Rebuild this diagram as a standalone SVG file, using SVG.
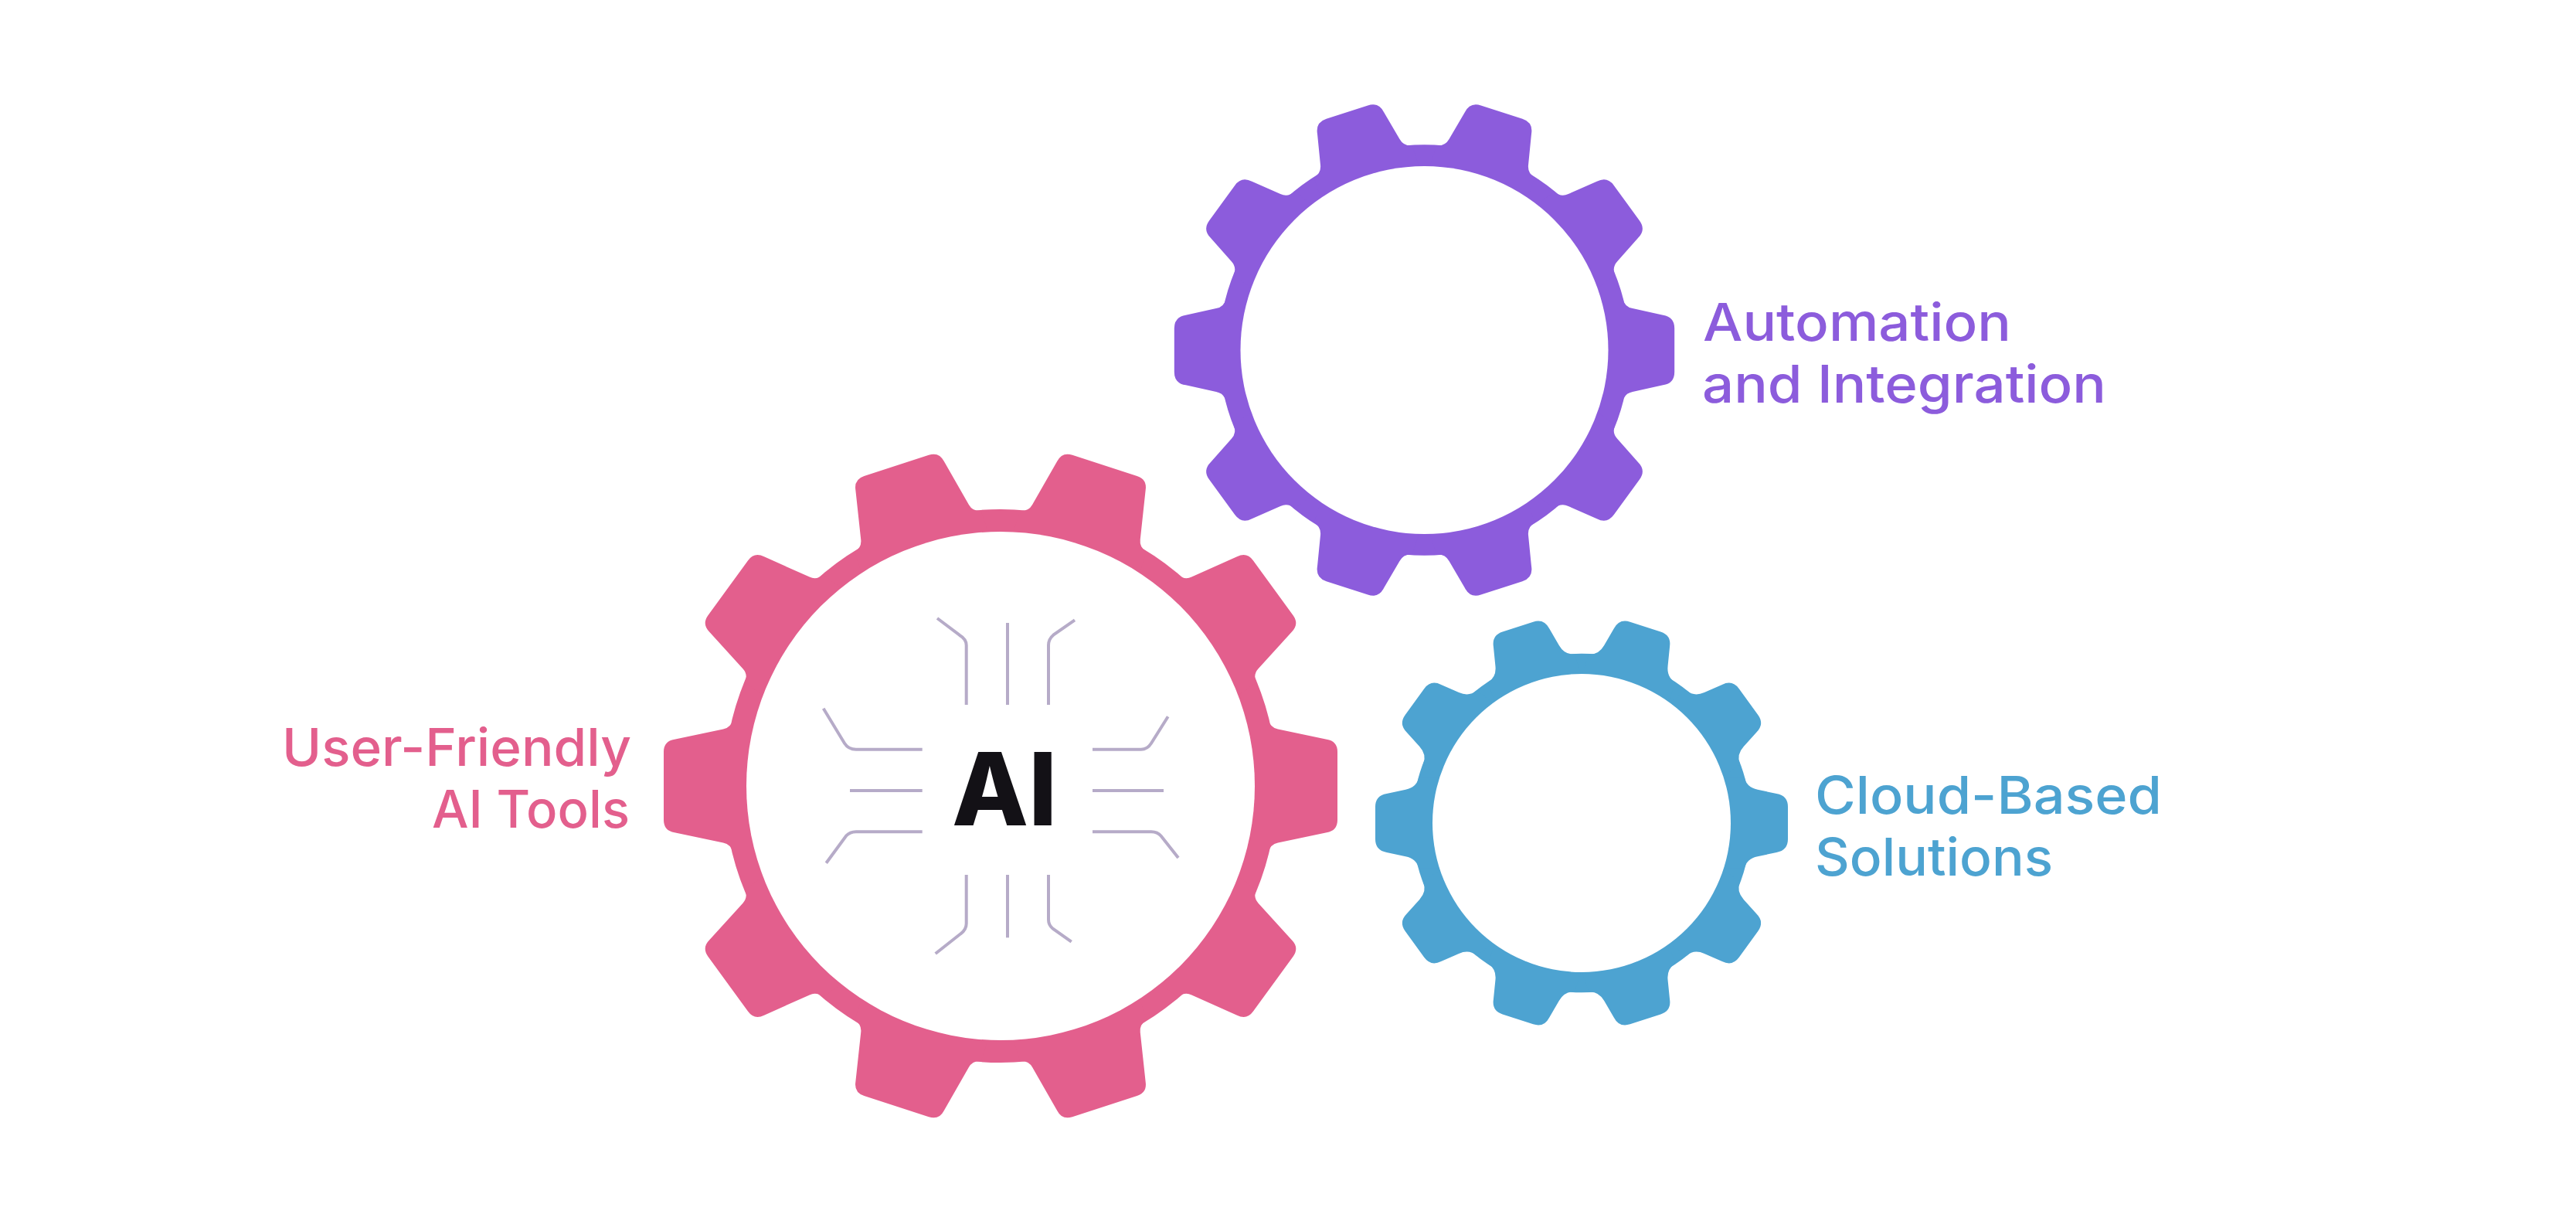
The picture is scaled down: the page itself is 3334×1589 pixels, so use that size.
<svg xmlns="http://www.w3.org/2000/svg" width="3334" height="1589" viewBox="0 0 3334 1589">
<style>
.bg{fill:#fff}
.hole{fill:#fff}
.pink{fill:#E35F8D}
.purple{fill:#8C5CDC}
.blue{fill:#4DA3D1}
.trace{fill:none;stroke:#B6ABC8;stroke-width:4}
.label{font-family:"Inter","Noto Sans",sans-serif;font-size:67px;font-weight:500}
.ai{font-family:"Inter","Liberation Sans",sans-serif;font-size:130px;font-weight:800;fill:#131116}
</style>
<defs>
<path id="toothP" d="M300,-86L346.5,-86Q349,-75.4 359,-73.4L422,-60.2Q436,-58 436,-44L436,44Q436,58 422,60.2L359,73.4Q349,75.4 346.5,86L300,86Z"/>
<path id="toothV" d="M300,-90L345.5,-90Q349,-75.4 363,-72.6L416,-61Q436,-58 436,-38L436,38Q436,58 416,61L363,72.6Q349,75.4 345.5,90L300,90Z"/>
<path id="toothB" d="M300,-96L344,-96Q349,-75.4 372,-70.7L412,-62Q436,-58 436,-34L436,34Q436,58 412,62L372,70.7Q349,75.4 344,96L300,96Z"/>
<g id="bodyP"><circle r="358"/><use href="#toothP"/><use href="#toothP" transform="rotate(36)"/><use href="#toothP" transform="rotate(72)"/><use href="#toothP" transform="rotate(108)"/><use href="#toothP" transform="rotate(144)"/><use href="#toothP" transform="rotate(180)"/><use href="#toothP" transform="rotate(216)"/><use href="#toothP" transform="rotate(252)"/><use href="#toothP" transform="rotate(288)"/><use href="#toothP" transform="rotate(324)"/></g>
<g id="bodyV"><circle r="358"/><use href="#toothV"/><use href="#toothV" transform="rotate(36)"/><use href="#toothV" transform="rotate(72)"/><use href="#toothV" transform="rotate(108)"/><use href="#toothV" transform="rotate(144)"/><use href="#toothV" transform="rotate(180)"/><use href="#toothV" transform="rotate(216)"/><use href="#toothV" transform="rotate(252)"/><use href="#toothV" transform="rotate(288)"/><use href="#toothV" transform="rotate(324)"/></g>
<g id="bodyB"><circle r="358"/><use href="#toothB"/><use href="#toothB" transform="rotate(36)"/><use href="#toothB" transform="rotate(72)"/><use href="#toothB" transform="rotate(108)"/><use href="#toothB" transform="rotate(144)"/><use href="#toothB" transform="rotate(180)"/><use href="#toothB" transform="rotate(216)"/><use href="#toothB" transform="rotate(252)"/><use href="#toothB" transform="rotate(288)"/><use href="#toothB" transform="rotate(324)"/></g>
</defs>
<rect class="bg" width="3334" height="1589"/>
<g id="gear-automation">
<use class="purple" href="#bodyV" transform="translate(1843.5 453) scale(0.7424)"/>
<circle class="hole" cx="1843.5" cy="453" r="238"/>
<text class="label" fill="#8C5CDC" x="2204" y="441" textLength="399" lengthAdjust="spacingAndGlyphs">Automation</text>
<text class="label" fill="#8C5CDC" x="2203" y="521" textLength="523" lengthAdjust="spacingAndGlyphs">and Integration</text>
</g>
<g id="gear-cloud">
<use class="blue" href="#bodyB" transform="translate(2047 1065) scale(0.6124)"/>
<circle class="hole" cx="2047" cy="1065" r="193"/>
<text class="label" fill="#4DA3D1" x="2349" y="1053" textLength="449" lengthAdjust="spacingAndGlyphs">Cloud-Based</text>
<text class="label" fill="#4DA3D1" x="2349" y="1133" textLength="308" lengthAdjust="spacingAndGlyphs">Solutions</text>
</g>
<g id="gear-ai">
<use class="pink" href="#bodyP" transform="translate(1295 1017)"/>
<circle class="hole" cx="1295" cy="1017" r="329"/>
<text class="label" fill="#E35F8D" x="365" y="991" textLength="452" lengthAdjust="spacingAndGlyphs">User-Friendly</text>
<text class="label" fill="#E35F8D" x="559" y="1071" textLength="256" lengthAdjust="spacingAndGlyphs">AI Tools</text>
<text class="ai" x="1232" y="1068" textLength="136" lengthAdjust="spacingAndGlyphs">AI</text>
</g>
<g id="connectors">
<path class="trace" d="M1304 806V912"/>
<path class="trace" d="M1250.7 912V835Q1250.7 827 1241.7 821.7L1213 800"/>
<path class="trace" d="M1357 912V835Q1357 827 1363.3 821.7L1391 802.3"/>
<path class="trace" d="M1193.7 969.7H1108Q1098 969.7 1093 961.7L1065.7 916.7"/>
<path class="trace" d="M1100 1023H1193.7"/>
<path class="trace" d="M1193.7 1076.3H1108Q1100 1076.3 1095 1081.7L1069.3 1116.7"/>
<path class="trace" d="M1414 969.7H1476.7Q1485 969.7 1490 961.7L1511.7 927.3"/>
<path class="trace" d="M1414 1023H1506"/>
<path class="trace" d="M1414 1076.3H1490Q1498 1076.3 1502.7 1081.7L1525 1110"/>
<path class="trace" d="M1304 1132V1213.3"/>
<path class="trace" d="M1250.7 1132V1195Q1250.7 1203 1243.3 1208.3L1210.7 1234"/>
<path class="trace" d="M1357 1132V1190Q1357 1197 1362.7 1201.7L1386.7 1218.7"/>
</g>
</svg>
